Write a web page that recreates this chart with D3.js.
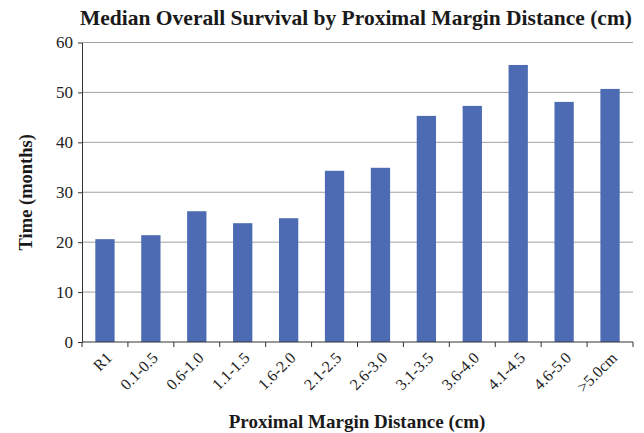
<!DOCTYPE html>
<html>
<head>
<meta charset="utf-8">
<script src="https://cdn.jsdelivr.net/npm/d3@7"></script>
<style>
  body { margin: 0; background: #fff; }
  svg, svg text { font-family: "Liberation Serif", "DejaVu Serif", serif; }
</style>
</head>
<body>
<div id="viz"></div>
<script>
const categories = ['R1', '0.1-0.5', '0.6-1.0', '1.1-1.5', '1.6-2.0', '2.1-2.5', '2.6-3.0',
  '3.1-3.5', '3.6-4.0', '4.1-4.5', '4.6-5.0', '>5.0cm'];
const medianMonths = [20.6, 21.4, 26.2, 23.8, 24.8, 34.3, 34.9, 45.3, 47.3, 55.5, 48.1, 50.7];
const yTicks = [0, 10, 20, 30, 40, 50, 60];

const width = 644;
const height = 433;
const margin = {top: 42.5, right: 11, bottom: 91, left: 82};
const barsColor = '#4d6bb3';

const data = categories.map((c, i) => ({cat: c, value: medianMonths[i]}));

const svg = d3.select('#viz')
  .append('svg')
    .attr('width', width)
    .attr('height', height);

// Scales
const xScale = d3.scaleBand()
  .domain(categories)
  .range([margin.left, width - margin.right])
  .paddingInner(0.58)
  .paddingOuter(0.29);
const yScale = d3.scaleLinear()
  .domain([0, 60])
  .range([height - margin.bottom, margin.top]);

// Gridlines
svg.append('g')
    .attr('class', 'grid')
  .selectAll('line')
  .data(yTicks.filter(d => d > 0))
  .join('line')
    .attr('x1', margin.left)
    .attr('x2', width - margin.right)
    .attr('y1', d => yScale(d))
    .attr('y2', d => yScale(d))
    .attr('stroke', '#a0a0a0')
    .attr('stroke-width', 1);

// Bars
svg.append('g')
    .attr('class', 'bars-group')
    .attr('fill', barsColor)
  .selectAll('rect')
  .data(data)
  .join('rect')
    .attr('x', d => xScale(d.cat))
    .attr('y', d => yScale(d.value))
    .attr('width', xScale.bandwidth())
    .attr('height', d => yScale(0) - yScale(d.value));

// Y axis
const yAxis = d3.axisLeft(yScale)
  .tickValues(yTicks)
  .tickSize(4)
  .tickSizeOuter(0)
  .tickPadding(5);
const yAxisGroup = svg.append('g')
    .attr('transform', `translate(${margin.left},0)`)
    .call(yAxis);
yAxisGroup.attr('font-family', null).attr('font-size', null);
yAxisGroup.selectAll('text')
    .style('font-size', '17px')
    .attr('fill', '#222');
yAxisGroup.selectAll('line, path').attr('stroke', '#333');

// X axis: ticks sit on the band boundaries
const boundaries = d3.range(categories.length + 1).map(i => margin.left + i * (width - margin.left - margin.right) / categories.length);
const xAxisGroup = svg.append('g').attr('class', 'x-axis-group');
xAxisGroup.append('line')
    .attr('x1', margin.left)
    .attr('x2', width - margin.right)
    .attr('y1', yScale(0))
    .attr('y2', yScale(0))
    .attr('stroke', '#333');
xAxisGroup.selectAll('.tick')
  .data(boundaries)
  .join('line')
    .attr('x1', d => d)
    .attr('x2', d => d)
    .attr('y1', yScale(0))
    .attr('y2', yScale(0) + 5)
    .attr('stroke', '#333');
xAxisGroup.selectAll('text')
  .data(categories)
  .join('text')
    .attr('transform', d => `translate(${xScale(d) + xScale.bandwidth() / 2},${yScale(0) + 9}) rotate(-45)`)
    .attr('text-anchor', 'end')
    .attr('dy', '0.7em')
    .style('font-size', '16px')
    .attr('fill', '#222')
    .text(d => d);

// Titles
svg.append('text')
    .attr('x', 356)
    .attr('y', 25)
    .attr('text-anchor', 'middle')
    .style('font-size', '21.5px')
    .style('font-weight', 700)
    .attr('fill', '#1a1a1a')
    .text('Median Overall Survival by Proximal Margin Distance (cm)');

svg.append('text')
    .attr('x', 357)
    .attr('y', 428)
    .attr('text-anchor', 'middle')
    .style('font-size', '19px')
    .style('font-weight', 700)
    .attr('fill', '#1a1a1a')
    .text('Proximal Margin Distance (cm)');

svg.append('text')
    .attr('transform', `translate(32,${(yScale(0) + yScale(60)) / 2}) rotate(-90)`)
    .attr('text-anchor', 'middle')
    .style('font-size', '18.5px')
    .style('font-weight', 700)
    .attr('fill', '#1a1a1a')
    .text('Time (months)');
</script>
</body>
</html>
